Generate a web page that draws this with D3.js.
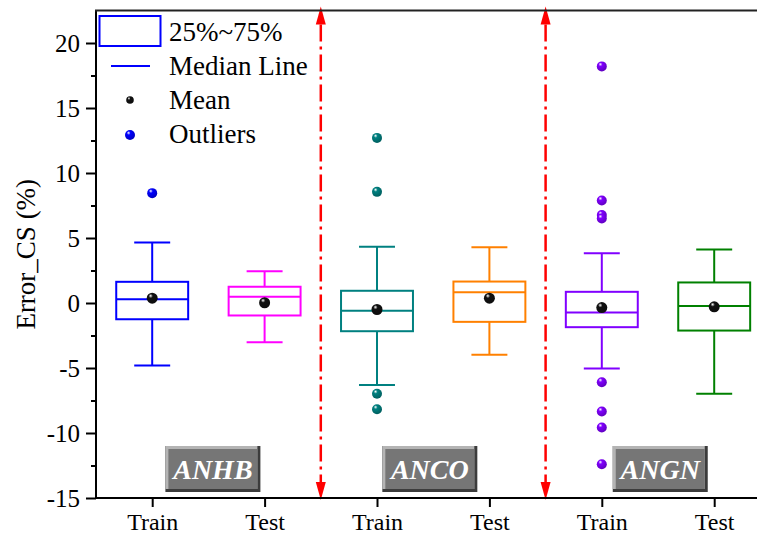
<!DOCTYPE html>
<meta charset="utf-8">
<style>
body { margin: 0; background: #fff; }
text { font-family: "Liberation Serif", "Times New Roman", serif; }
</style>
<body>
<script src="https://cdn.jsdelivr.net/npm/d3@7"></script>
<script>
var width = 757, height = 541;

// data
var groups = ["Train", "Test", "Train", "Test", "Train", "Test"];
var boxColors = ["#0000ff", "#ff00ff", "#008080", "#ff8000", "#8000ff", "#008000"];
var whiskerHi = [4.65, 2.45, 4.32, 4.29, 3.83, 4.12];
var q3 = [1.63, 1.25, 0.94, 1.65, 0.86, 1.58];
var median = [0.29, 0.48, -0.60, 0.83, -0.73, -0.24];
var q1 = [-1.25, -0.96, -2.17, -1.45, -1.86, -2.12];
var whiskerLo = [-4.81, -3.01, -6.30, -3.99, -5.04, -6.98];
var means = [0.37, 0.02, -0.50, 0.37, -0.35, -0.29];
var outliers = [[8.45], [], [12.7, 8.55, -6.98, -8.17], [],
                [18.2, 7.88, 6.76, 6.5, -6.09, -8.35, -9.58, -12.4], []];
var datasets = ["ANHB", "ANCO", "ANGN"];
var datasetPos = [1.54, 3.47, 5.52];
var separators = [2.5, 4.5];
var yTicks = [-15, -10, -5, 0, 5, 10, 15, 20];
var yMinor = [-12.5, -7.5, -2.5, 2.5, 7.5, 12.5, 17.5];

var plotLeft = 96, plotTop = 10.5, plotBottom = 498;
var x = d3.scaleLinear().domain([0.5, 6.5]).range([plotLeft, plotLeft + 6 * 112.4]);
var y = d3.scaleLinear().domain([-15, 22.5]).range([plotBottom, plotTop]);

var svg = d3.select("body").append("svg").attr("width", width).attr("height", height);
var defs = svg.append("defs");

// shiny ball gradients
function ballGrad(id, c) {
  var g = defs.append("radialGradient").attr("id", id)
    .attr("cx", "40%").attr("cy", "35%").attr("r", "65%").attr("fx", "35%").attr("fy", "28%");
  g.append("stop").attr("offset", "0%").attr("stop-color", "#ffffff");
  g.append("stop").attr("offset", "30%").attr("stop-color", c);
  g.append("stop").attr("offset", "100%").attr("stop-color", d3.color(c).darker(0.8));
}
boxColors.forEach(function(c, i) { ballGrad("ball" + i, c); });
ballGrad("ballMean", "#111111");

// dataset label boxes (bevelled)
datasets.forEach(function(name, i) {
  var cx = x(datasetPos[i]), w = 95, h = 46, bx = cx - w / 2, by = 446;
  var g = svg.append("g");
  g.append("rect").attr("x", bx).attr("y", by).attr("width", w).attr("height", h).attr("fill", "#3c3c3c");
  g.append("rect").attr("x", bx).attr("y", by).attr("width", w - 3).attr("height", h - 3).attr("fill", "#b4b4b4");
  g.append("rect").attr("x", bx + 3).attr("y", by + 3).attr("width", w - 6).attr("height", h - 6).attr("fill", "#767676");
  g.append("text").attr("x", cx).attr("y", by + 33).attr("text-anchor", "middle")
    .attr("fill", "#fff").style("font-size", "28px").style("font-weight", "bold").style("font-style", "italic")
    .text(name);
});

// red separators with arrows
separators.forEach(function(s) {
  var sx = x(s);
  svg.append("line").attr("x1", sx).attr("x2", sx).attr("y1", plotTop + 14).attr("y2", plotBottom - 14)
    .attr("stroke", "#ff0000").attr("stroke-width", 2.5).attr("stroke-dasharray", "17,5,3,5");
  svg.append("path").attr("d", "M" + sx + "," + (plotTop - 4) + "l-5,18h10z").attr("fill", "#ff0000");
  svg.append("path").attr("d", "M" + sx + "," + (plotBottom + 2) + "l-5,-18h10z").attr("fill", "#ff0000");
});

// boxes
var boxW = 0.64, capW = 0.32;
groups.forEach(function(g, i) {
  var c = boxColors[i], xi = i + 1;
  var gg = svg.append("g").attr("stroke", c).attr("stroke-width", 2).attr("fill", "none");
  gg.append("line").attr("x1", x(xi)).attr("x2", x(xi)).attr("y1", y(whiskerHi[i])).attr("y2", y(q3[i]));
  gg.append("line").attr("x1", x(xi)).attr("x2", x(xi)).attr("y1", y(q1[i])).attr("y2", y(whiskerLo[i]));
  gg.append("line").attr("x1", x(xi - capW / 2)).attr("x2", x(xi + capW / 2)).attr("y1", y(whiskerHi[i])).attr("y2", y(whiskerHi[i]));
  gg.append("line").attr("x1", x(xi - capW / 2)).attr("x2", x(xi + capW / 2)).attr("y1", y(whiskerLo[i])).attr("y2", y(whiskerLo[i]));
  gg.append("rect").attr("x", x(xi - boxW / 2)).attr("y", y(q3[i]))
    .attr("width", x(xi + boxW / 2) - x(xi - boxW / 2)).attr("height", y(q1[i]) - y(q3[i]));
  gg.append("line").attr("x1", x(xi - boxW / 2)).attr("x2", x(xi + boxW / 2)).attr("y1", y(median[i])).attr("y2", y(median[i]));

  svg.selectAll(null).data(outliers[i]).enter().append("circle")
    .attr("cx", x(xi)).attr("cy", function(d) { return y(d); }).attr("r", 5)
    .attr("fill", "url(#ball" + i + ")");
  svg.append("circle").attr("cx", x(xi)).attr("cy", y(means[i])).attr("r", 5.5).attr("fill", "url(#ballMean)");
});

// axes
var yAxis = svg.append("g").attr("transform", "translate(" + plotLeft + ",0)")
  .call(d3.axisLeft(y).tickValues(yTicks).tickSize(10).tickSizeOuter(0).tickPadding(6)
    .tickFormat(function(d) { return String(d); }));
yAxis.append("g").call(d3.axisLeft(y).tickValues(yMinor).tickSize(5).tickSizeOuter(0).tickFormat(""));
yAxis.selectAll(".domain").remove();
yAxis.selectAll("line").attr("stroke", "#000").attr("stroke-width", 2);
yAxis.selectAll("text").style("font-size", "25px").attr("fill", "#000")
  .style("font-family", "'Liberation Serif', 'Times New Roman', serif");

var xAxis = svg.append("g").attr("transform", "translate(0," + plotBottom + ")")
  .call(d3.axisBottom(x).tickValues(d3.range(1, groups.length + 1)).tickSize(9).tickSizeOuter(0).tickPadding(6)
    .tickFormat(function(d) { return groups[d - 1]; }));
xAxis.selectAll(".domain").remove();
xAxis.selectAll("line").attr("stroke", "#000").attr("stroke-width", 2);
xAxis.selectAll("text").style("font-size", "24px").attr("fill", "#000")
  .style("font-family", "'Liberation Serif', 'Times New Roman', serif");

svg.append("line").attr("x1", plotLeft).attr("x2", plotLeft).attr("y1", plotTop).attr("y2", plotBottom + 1).attr("stroke", "#000").attr("stroke-width", 2);
svg.append("line").attr("x1", plotLeft - 1).attr("x2", width).attr("y1", plotBottom).attr("y2", plotBottom).attr("stroke", "#000").attr("stroke-width", 2);
svg.append("line").attr("x1", plotLeft - 1).attr("x2", width).attr("y1", plotTop).attr("y2", plotTop).attr("stroke", "#222").attr("stroke-width", 2.2);

svg.append("text").attr("transform", "translate(35," + ((plotTop + plotBottom) / 2) + ") rotate(-90)")
  .attr("text-anchor", "middle").style("font-size", "27px").text("Error_CS (%)");

// legend
var lg = svg.append("g");
lg.append("rect").attr("x", 99.5).attr("y", 16).attr("width", 61).attr("height", 30)
  .attr("fill", "none").attr("stroke", "#0000ff").attr("stroke-width", 2);
lg.append("line").attr("x1", 111).attr("x2", 150).attr("y1", 66).attr("y2", 66).attr("stroke", "#0000ff").attr("stroke-width", 2);
lg.append("circle").attr("cx", 130).attr("cy", 100).attr("r", 3.8).attr("fill", "url(#ballMean)");
lg.append("circle").attr("cx", 130).attr("cy", 135).attr("r", 5).attr("fill", "url(#ball0)");
var legendText = ["25%~75%", "Median Line", "Mean", "Outliers"];
lg.selectAll("text").data(legendText).enter().append("text")
  .attr("x", 169).attr("y", function(d, i) { return 41 + i * 34; })
  .style("font-size", "27px").text(function(d) { return d; });
</script>
